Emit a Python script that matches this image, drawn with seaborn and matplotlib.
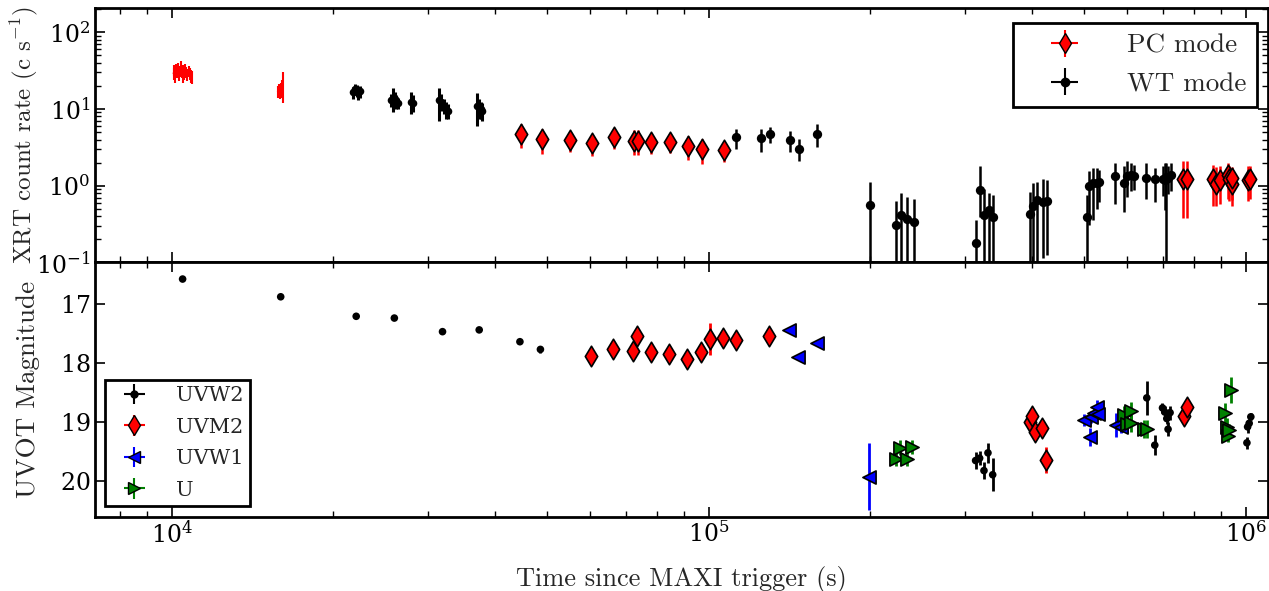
import numpy as np
import matplotlib
matplotlib.use("Agg")
import matplotlib.pyplot as plt
import seaborn as sns

# ---------------- XRT (top panel) ----------------
# PC mode dense early segments (no markers), two separate snapshots
pc_seg1_t = [10080, 10120, 10160, 10200, 10240, 10280, 10320, 10360, 10400, 10440, 10480,
             10520, 10560, 10600, 10650, 10700, 10750, 10800, 10850, 10900]
pc_seg1_r = [29, 32, 27, 33, 30, 34, 28, 31, 36, 30, 27, 32, 29, 33, 30, 28, 31, 29, 27, 26]
pc_seg1_e = [5, 5, 5, 6, 5, 6, 5, 5, 6, 5, 5, 5, 5, 6, 5, 5, 5, 5, 5, 5]
pc_seg2_t = [15760, 15830, 15900, 15970, 16040, 16100]
pc_seg2_r = [17, 18, 16.5, 18, 19, 21]
pc_seg2_e = [3, 3, 3, 4, 5, 9]

# WT mode dense early segments (small dots)
wt_early_t = [21800, 21950, 22100, 22250, 22400, 25600, 25800, 26000, 26200, 26400,
              27950, 28100, 31500, 31800, 32100, 32400, 32700, 37000, 37300, 37600, 37900]
wt_early_r = [16.5, 18, 17.5, 16, 17, 13, 14, 13.5, 12.5, 12, 12.5, 12,
              13, 12.5, 11, 10, 9.5, 11, 10.5, 10, 9.5]
wt_early_e = [3, 3, 3, 3, 3, 2.5, 5, 3, 2.5, 2, 4, 3, 6, 3, 2.5, 2.5, 2, 5, 3, 2.5, 2.5]

# PC mode binned points (diamonds)
pc_t = [44730, 48940, 55180, 60570, 66570, 72710, 73800, 78240, 84530, 91450, 96960, 106600,
        765300, 776000, 870500, 880600, 896000, 925600, 932200, 941700, 943000, 1011000, 1018000]
pc_r = [4.76, 4.06, 3.94, 3.56, 4.31, 3.83, 3.83, 3.71, 3.75, 3.29, 3.01, 2.92,
        1.23, 1.23, 1.23, 1.05, 1.18, 1.38, 1.23, 1.05, 1.25, 1.18, 1.22]
pc_lo = [1.7, 1.5, 1.2, 1.1, 1.3, 1.3, 1.3, 1.1, 1.1, 1.1, 1.1, 0.9,
         0.85, 0.85, 0.69, 0.5, 0.6, 0.7, 0.6, 0.5, 0.6, 0.55, 0.55]
pc_hi = [1.6, 1.4, 1.2, 1.1, 1.3, 1.5, 1.5, 1.1, 1.1, 1.1, 1.1, 0.9,
         0.84, 0.84, 0.65, 0.7, 0.65, 0.6, 0.6, 0.5, 0.5, 0.65, 0.6]

# WT mode binned points (dots)
wt_t = [112500, 124900, 130100, 141500, 147500, 159100, 199400, 223300, 228500, 234400, 240900,
        314800, 320600, 325700, 332700, 338800, 396300, 401000, 407800, 419700, 425700,
        505300, 511200, 518600, 527600, 533500, 570600, 593000, 600000, 611000, 620000,
        651000, 677700, 702600, 707000, 711800, 718000, 725000]
wt_r = [4.26, 4.18, 4.76, 3.94, 3.01, 4.76, 0.56, 0.307, 0.415, 0.371, 0.34,
        0.18, 0.887, 0.42, 0.487, 0.391, 0.431, 0.549, 0.657, 0.606, 0.624,
        0.386, 0.98, 1.08, 1.10, 1.12, 1.32, 1.10, 1.32, 1.36, 1.34,
        1.28, 1.21, 1.23, 1.20, 1.30, 1.28, 1.36]
wt_lo = [1.26, 1.4, 1.2, 1.2, 0.9, 1.6, 0.56, 0.307, 0.415, 0.371, 0.34,
         0.18, 0.49, 0.42, 0.487, 0.391, 0.431, 0.549, 0.657, 0.49, 0.5,
         0.386, 0.67, 0.72, 0.6, 0.5, 0.75, 0.65, 0.6, 0.5, 0.45,
         0.6, 0.6, 0.5, 0.71, 1.30, 0.5, 0.5]
wt_hi = [1.24, 1.3, 1.1, 1.2, 1.0, 1.6, 0.55, 0.32, 0.40, 0.35, 0.33,
         0.18, 0.9, 0.5, 0.31, 0.37, 0.41, 0.53, 0.45, 0.6, 0.55,
         0.37, 0.56, 0.6, 0.6, 0.5, 0.68, 0.7, 0.8, 0.6, 0.5,
         0.7, 0.5, 0.6, 0.75, 0.7, 0.55, 0.6]

# ---------------- UVOT (bottom panel) ----------------
uvw2_t = [10480, 15960, 22060, 25980, 31940, 37380, 44510, 48600, 314000, 319500, 325500,
          331100, 337900, 654200, 677000, 699800, 706600, 712800, 716700, 722900,
          1005000, 1008000, 1014800, 1022000]
uvw2_m = [16.58, 16.88, 17.21, 17.24, 17.47, 17.44, 17.64, 17.77, 19.65, 19.61, 19.82,
          19.52, 19.89, 18.59, 19.39, 18.76, 18.83, 18.94, 19.12, 18.84,
          19.35, 19.08, 19.02, 18.91]
uvw2_e = [0.02, 0.02, 0.02, 0.02, 0.02, 0.02, 0.03, 0.06, 0.14, 0.12, 0.14,
          0.17, 0.28, 0.29, 0.17, 0.08, 0.1, 0.1, 0.12, 0.12, 0.1, 0.1, 0.08, 0.06]

uvm2_t = [60360, 66440, 72290, 73420, 78110, 84230, 91130, 96920, 100400, 106200, 112300,
          129600, 396300, 400500, 405600, 417900, 424000, 767900, 775700]
uvm2_m = [17.88, 17.76, 17.80, 17.55, 17.82, 17.84, 17.94, 17.82, 17.60, 17.57, 17.61,
          17.54, 19.00, 18.90, 19.17, 19.10, 19.64, 18.90, 18.74]
uvm2_e = [0.04, 0.04, 0.04, 0.04, 0.04, 0.04, 0.04, 0.04, 0.27, 0.04, 0.04,
          0.04, 0.08, 0.08, 0.08, 0.08, 0.22, 0.1, 0.1]

uvw1_t = [141000, 146800, 158800, 198700, 500000, 513000, 514500, 521900, 529500, 530900,
          572800, 585200]
uvw1_m = [17.44, 17.90, 17.66, 19.92, 18.97, 19.25, 18.92, 18.84, 18.75, 18.87, 19.05, 19.08]
uvw1_e = [0.03, 0.03, 0.04, 0.57, 0.1, 0.15, 0.1, 0.1, 0.12, 0.08, 0.2, 0.1]

u_t = [222900, 227000, 233600, 239300, 593600, 599800, 611000, 612000, 646700, 656200,
       915400, 924700, 928000, 931100, 938000]
u_m = [19.63, 19.43, 19.63, 19.42, 18.88, 19.03, 18.81, 19.02, 19.12, 19.12,
       18.84, 19.08, 19.24, 19.13, 18.46]
u_e = [0.12, 0.12, 0.12, 0.12, 0.15, 0.15, 0.15, 0.15, 0.15, 0.15,
       0.17, 0.15, 0.1, 0.1, 0.22]

# ---------------- style ----------------
sns.set_theme(style="ticks")
plt.rcParams.update({
    "font.family": "DejaVu Serif",
    "mathtext.fontset": "cm",
    "axes.formatter.use_mathtext": True,
    "axes.unicode_minus": False,
    "axes.linewidth": 2,
    "axes.edgecolor": "black",
    "xtick.direction": "in", "ytick.direction": "in",
    "xtick.top": True, "ytick.right": True,
    "xtick.major.size": 7, "xtick.minor.size": 4,
    "ytick.major.size": 7, "ytick.minor.size": 4,
    "xtick.major.width": 1.2, "xtick.minor.width": 1.0,
    "ytick.major.width": 1.2, "ytick.minor.width": 1.0,
    "xtick.color": "black", "ytick.color": "black",
    "xtick.labelsize": 17, "ytick.labelsize": 17,
})
CM = "cmr10"

fig, (ax1, ax2) = plt.subplots(2, 1, sharex=True, figsize=(12.69, 5.91), dpi=100)
fig.subplots_adjust(left=0.0749, right=0.9992, top=0.986, bottom=0.1257, hspace=0)

# ---- top panel ----
ax1.set_xscale("log")
ax1.set_yscale("log", nonpositive="clip")

def asym(lo, hi):
    return np.vstack([lo, hi])

for st, sr, se in [(pc_seg1_t, pc_seg1_r, pc_seg1_e), (pc_seg2_t, pc_seg2_r, pc_seg2_e)]:
    ax1.errorbar(st, sr, yerr=se, fmt="-", color="red", ecolor="red", lw=1.3,
                 elinewidth=1.5, zorder=2)
ax1.errorbar(wt_early_t, wt_early_r, yerr=wt_early_e, fmt="none", ecolor="black", elinewidth=2.2,
             zorder=2)
sns.scatterplot(x=wt_early_t, y=wt_early_r, ax=ax1, color="black", s=30, linewidth=0,
                legend=False, zorder=3)

ax1.errorbar(pc_t, pc_r, yerr=asym(pc_lo, pc_hi), fmt="none", ecolor="red", elinewidth=1.8,
             zorder=2)
sns.scatterplot(x=pc_t, y=pc_r, ax=ax1, marker="d", color="red", edgecolor="black",
                linewidth=1.2, s=110, legend=False, zorder=3)
ax1.errorbar(wt_t, wt_r, yerr=asym(wt_lo, wt_hi), fmt="none", ecolor="black", elinewidth=1.8,
             zorder=2)
sns.scatterplot(x=wt_t, y=wt_r, ax=ax1, color="black", s=45, linewidth=0,
                legend=False, zorder=3)

# legend proxies
h_pc = ax1.errorbar([np.nan], [np.nan], yerr=[1], xerr=[1], fmt="d", color="red", ecolor="red",
                    mec="black", ms=10, elinewidth=1.5, label="PC mode")
h_wt = ax1.errorbar([np.nan], [np.nan], yerr=[1], xerr=[1], fmt="o", color="black", ecolor="black",
                    ms=6, elinewidth=1.5, label="WT mode")
leg1 = ax1.legend(handles=[h_pc, h_wt], loc="upper right", bbox_to_anchor=(0.9909, 0.943),
                  borderaxespad=0, prop={"family": CM, "size": 19.5}, numpoints=1, fancybox=False,
                  framealpha=1, edgecolor="black", handlelength=3.0, handletextpad=0.8,
                  borderpad=0.4, labelspacing=0.55)
leg1.get_frame().set_linewidth(2)

ax1.set_ylim(0.1, 205)
ax1.set_ylabel(r"XRT count rate (c s$^{-1}$)", fontsize=18, family=CM)

# ---- bottom panel ----
def band(ax, t, m, e, marker, color, s, ec):
    ax.errorbar(t, m, yerr=e, fmt="none", ecolor=color, elinewidth=2, zorder=2)
    sns.scatterplot(x=t, y=m, ax=ax, marker=marker, color=color, edgecolor=ec,
                    linewidth=1.2 if ec != "none" else 0, s=s, legend=False, zorder=3)

band(ax2, uvw2_t, uvw2_m, uvw2_e, "o", "black", 30, "none")
band(ax2, uvm2_t, uvm2_m, uvm2_e, "d", "red", 110, "black")
band(ax2, uvw1_t, uvw1_m, uvw1_e, "<", "blue", 90, "black")
band(ax2, u_t, u_m, u_e, ">", "green", 90, "black")

hs = []
for lab, mk, col, ms, mec in [("UVW2", "o", "black", 5, "black"), ("UVM2", "d", "red", 10, "black"),
                              ("UVW1", "<", "blue", 9, "black"), ("U", ">", "green", 9, "black")]:
    hs.append(ax2.errorbar([np.nan], [np.nan], yerr=[1], xerr=[1], fmt=mk, color=col,
                           ecolor=col, mec=mec, ms=ms, elinewidth=1.5, label=lab))
leg2 = ax2.legend(handles=hs, loc="lower left", bbox_to_anchor=(0.0085, 0.042), borderaxespad=0,
                  prop={"family": "DejaVu Serif", "size": 15}, numpoints=1, fancybox=False,
                  framealpha=1, edgecolor="black", handlelength=2.2, handletextpad=0.9,
                  borderpad=0.3, labelspacing=0.6)
leg2.get_frame().set_linewidth(2)

ax2.set_ylim(20.6, 16.3)
ax2.set_yticks([17, 18, 19, 20])
ax2.set_ylabel("UVOT Magnitude", fontsize=19.5, family=CM)
ax2.set_xlim(7200, 1.1e6)
ax2.set_xlabel("Time since MAXI trigger (s)", fontsize=19, family=CM, labelpad=13)

for ax in (ax1, ax2):
    ax.tick_params(which="both", top=True, right=True, direction="in")
    ax.yaxis.set_label_coords(-0.047, 0.5)
ax1.tick_params(labelbottom=False)

fig.savefig("out.png", dpi=100)
